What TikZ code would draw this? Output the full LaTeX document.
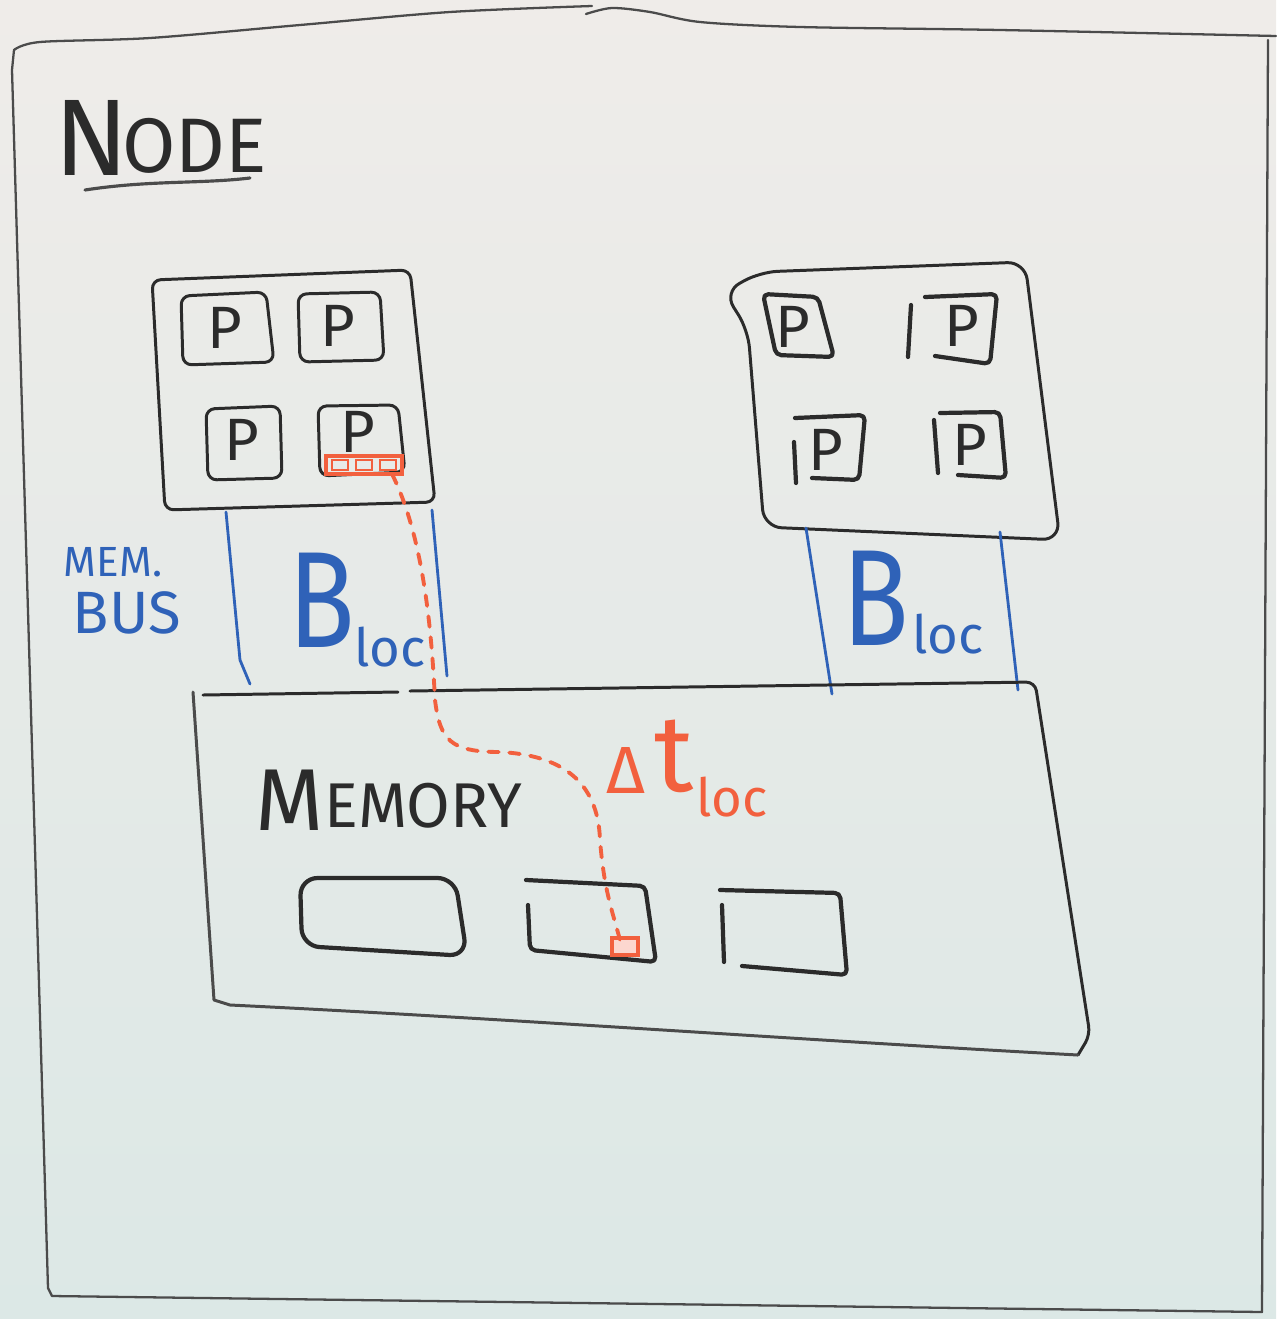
\documentclass[tikz,border=0pt]{standalone}
\usepackage{fontspec}
\setmainfont{Fira Sans}
\definecolor{inkc}{HTML}{2B2B2B}
\definecolor{bluec}{HTML}{2F62B8}
\definecolor{redc}{HTML}{F2603E}
\definecolor{bgtop}{HTML}{EFECE9}
\definecolor{bgbot}{HTML}{DCE8E6}
\begin{document}
\begin{tikzpicture}[x=0.02cm,y=-0.02cm,
  frame/.style={draw=inkc!85, line width=1.3pt, line cap=round, line join=round},
  ink/.style={draw=inkc, line width=1.7pt, line cap=round, line join=round, rounded corners=5},
  thick ink/.style={draw=inkc, line width=2.4pt, line cap=round, line join=round, rounded corners=3},
  bus/.style={draw=bluec, line width=1.6pt, line cap=round},
  cache/.style={draw=redc, line width=1.8pt},
  dashpath/.style={draw=redc, line width=2.2pt, dash pattern=on 6pt off 6pt, line cap=round},
  lbl/.style={inner sep=0pt, text=inkc},
  blbl/.style={inner sep=0pt, text=bluec},
  rlbl/.style={inner sep=0pt, text=redc},
  ptext/.style={inner sep=0pt, text=inkc, font=\fontsize{34}{34}\selectfont}]
\shade[top color=bgtop, bottom color=bgbot] (0,0) rectangle (1276,1319);
\useasboundingbox (0,0) rectangle (1276,1319);

% outer node frame
\draw[frame] plot[smooth] coordinates {(592,6) (450,12) (300,25) (150,38) (40,42) (14,50)}
  -- (12,70) -- (48,1288) -- (52,1296) -- (1262,1312) -- (1268,40);
\draw[frame] plot[smooth] coordinates {(586,14) (612,8) (650,12) (700,22) (800,27) (1000,30) (1276,36)};

% title
\node[lbl] (nodeN) at (92,138) {\fontsize{62}{62}\selectfont N};
\node[lbl, anchor=west] (nodeODE) at (122,146) {\fontsize{44}{44}\selectfont ODE};
\draw[frame, line width=1.8pt] (85,190) .. controls (150,180) and (200,184) .. (250,178);

% left processor board
\draw[ink] (152,280) -- (410,270) -- (435,502) -- (165,510) -- cycle;
\draw[ink] (181,296) -- (266,292) -- (274,362) -- (183,365) -- cycle;
\draw[ink] (298,294) -- (380,292) -- (384,360) -- (300,362) -- cycle;
\draw[ink] (206,409) -- (280,406) -- (282,478) -- (208,480) -- cycle;
\draw[ink] (318,406) -- (398,405) -- (405,472) -- (320,476) -- cycle;
\node[ptext] (p1) at (225,328) {P};
\node[ptext] (p2) at (338,326) {P};
\node[ptext] (p3) at (242,440) {P};
\node[ptext] (p4) at (358,432) {P};
% cache
\draw[cache] (326,456) rectangle (402,474);
\draw[cache, line width=1.3pt] (332,460) rectangle (348,470) (356,460) rectangle (372,470) (380,460) rectangle (396,470);
\coordinate (cachepoint) at (392,474);

% right processor board
\draw[ink, rounded corners=10] (724,292) -- (760,272) -- (1025,262) -- (1060,540) -- (764,527) -- (748,330) -- cycle;
\draw[thick ink] (763,294) -- (818,297) -- (834,357) -- (776,355) -- cycle;
\draw[thick ink] (911,305) -- (908,357);
\draw[thick ink] (925,297) -- (997,294) -- (990,364) -- (935,356);
\draw[thick ink] (794,442) -- (796,483);
\draw[thick ink] (795,418) -- (865,415) -- (859,480) -- (812,478);
\draw[thick ink] (934,420) -- (938,473);
\draw[thick ink] (940,413) -- (1000,412) -- (1006,478) -- (958,475);
\node[ptext] (q1) at (793,327) {P};
\node[ptext] (q2) at (962,326) {P};
\node[ptext] (q3) at (826,450) {P};
\node[ptext] (q4) at (970,445) {P};

% memory buses
\draw[bus] (226,512) -- (240,660) -- (250,684);
\draw[bus] (432,510) -- (447,676);
\draw[bus] (806,528) -- (832,694);
\draw[bus] (1000,532) -- (1018,690);
\node[blbl] (membus1) at (113,562) {\fontsize{24}{24}\selectfont MEM.};
\node[blbl] (membus2) at (127,613) {\fontsize{34}{34}\selectfont BUS};
\node[blbl, xscale=0.8] (bl) at (322,600) {\fontsize{78}{78}\selectfont B};
\node[blbl] (bll) at (390,647) {\fontsize{30}{30}\selectfont loc};
\node[blbl, xscale=0.8] (br) at (876,598) {\fontsize{78}{78}\selectfont B};
\node[blbl] (brl) at (948,634) {\fontsize{30}{30}\selectfont loc};

% memory
\draw[ink] (203,695) -- (398,692);
\draw[ink] (410,691) -- (1035,682) -- (1090,1035) -- (1078,1055);
\draw[frame, line width=1.7pt] (1078,1055) .. controls (800,1040) and (500,1018) .. (230,1005) -- (214,1000) -- (193,692);
\node[lbl] (memM) at (290,800) {\fontsize{50}{50}\selectfont M};
\node[lbl, anchor=west] (memrest) at (324,806) {\fontsize{36}{36}\selectfont EMORY};
\draw[thick ink, rounded corners=10] (300,878) -- (455,878) -- (467,956) -- (302,946) -- cycle;
\draw[thick ink] (526,880) -- (645,886) -- (656,962) -- (530,950) -- (528,905);
\draw[thick ink] (720,890) -- (840,893) -- (847,975) -- (742,966);
\draw[thick ink] (722,905) -- (724,962);
\coordinate (memtarget) at (620,940);
\draw[cache, fill=redc!25] (612,938) rectangle (638,955);

% access path
\draw[dashpath] (cachepoint) .. controls (425,540) and (432,640) .. (435,700)
  .. controls (440,740) and (450,752) .. (500,752)
  .. controls (560,755) and (598,780) .. (600,840)
  .. controls (604,890) and (612,910) .. (memtarget);
\node[rlbl] (dtD) at (626,770) {\fontsize{38}{38}\selectfont Δ};
\node[rlbl] (dtt) at (674,756) {\fontsize{62}{62}\selectfont t};
\node[rlbl] (dtl) at (732,797) {\fontsize{30}{30}\selectfont loc};
\end{tikzpicture}
\end{document}
